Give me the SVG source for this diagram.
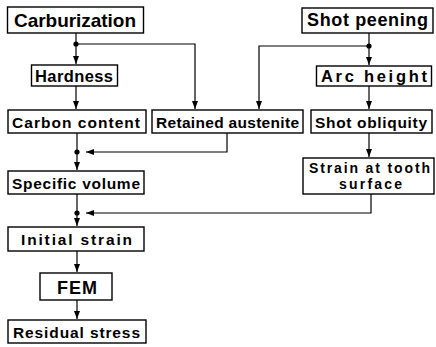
<svg xmlns="http://www.w3.org/2000/svg" width="436" height="347" viewBox="0 0 436 347">
<style>
.box{fill:#fff;stroke:#000;stroke-width:1.4}
.t{font-family:"Liberation Sans",Arial,sans-serif;font-weight:bold;fill:#000}
.s{font-size:15.5px}
.c{fill:none;stroke:#000;stroke-width:1.2}
</style>
<defs>
<marker id="ar" viewBox="0 0 8 6" refX="8" refY="3" markerWidth="8" markerHeight="6" markerUnits="userSpaceOnUse" orient="auto">
<path d="M0,0 L8,3 L0,6 Z" fill="#000"/>
</marker>
</defs>
<rect width="436" height="347" fill="#fff"/>
<g id="connectors">
<path class="c" d="M76,33 V64" marker-end="url(#ar)"/>
<path class="c" d="M76,44 H195 V109" marker-end="url(#ar)"/>
<path class="c" d="M76,86 V109" marker-end="url(#ar)"/>
<path class="c" d="M369,33 V65" marker-end="url(#ar)"/>
<path class="c" d="M369,46 H259 V109" marker-end="url(#ar)"/>
<path class="c" d="M369,86 V109" marker-end="url(#ar)"/>
<path class="c" d="M369,133 V157" marker-end="url(#ar)"/>
<path class="c" d="M77,133 V170" marker-end="url(#ar)"/>
<path class="c" d="M227,133 V152 H86" marker-end="url(#ar)"/>
<path class="c" d="M77,194 V226" marker-end="url(#ar)"/>
<path class="c" d="M371,194 V213 H86" marker-end="url(#ar)"/>
<path class="c" d="M77,251 V272" marker-end="url(#ar)"/>
<path class="c" d="M77,300 V319" marker-end="url(#ar)"/>
<circle cx="76" cy="44" r="2.6" fill="#000"/>
<circle cx="369" cy="46" r="2.6" fill="#000"/>
<circle cx="77" cy="152" r="2.6" fill="#000"/>
<circle cx="77" cy="213" r="2.6" fill="#000"/>
</g>
<g id="carburization">
<rect class="box" x="7.5" y="7" width="136" height="26"/>
<text class="t" x="14" y="27" font-size="19" textLength="122" lengthAdjust="spacing">Carburization</text>
</g>
<g id="shot-peening">
<rect class="box" x="302" y="8" width="131" height="25"/>
<text class="t" x="307" y="26" font-size="18" textLength="121" lengthAdjust="spacing">Shot peening</text>
</g>
<g id="hardness">
<rect class="box" x="31.5" y="65" width="86" height="21"/>
<text class="t" x="35" y="81.5" font-size="16.5" textLength="78" lengthAdjust="spacing">Hardness</text>
</g>
<g id="arc-height">
<rect class="box" x="316.5" y="66" width="115" height="20"/>
<text class="t" x="321" y="81.5" font-size="16.5" textLength="106" lengthAdjust="spacing">Arc height</text>
</g>
<g id="carbon-content">
<rect class="box" x="8" y="110" width="138" height="23"/>
<text class="t s" x="12" y="127.5" textLength="128" lengthAdjust="spacing">Carbon content</text>
</g>
<g id="retained-austenite">
<rect class="box" x="152" y="110" width="151" height="23"/>
<text class="t s" x="156" y="127.5" textLength="143" lengthAdjust="spacing">Retained austenite</text>
</g>
<g id="shot-obliquity">
<rect class="box" x="311" y="110" width="121" height="23"/>
<text class="t s" x="315" y="127.5" textLength="112" lengthAdjust="spacing">Shot obliquity</text>
</g>
<g id="strain-at-tooth-surface">
<rect class="box" x="303" y="158" width="131" height="36"/>
<text class="t" x="309" y="173" font-size="14" textLength="121" lengthAdjust="spacing">Strain at tooth</text>
<text class="t" x="339" y="189" font-size="14" textLength="63" lengthAdjust="spacing">surface</text>
</g>
<g id="specific-volume">
<rect class="box" x="8" y="171" width="136" height="23"/>
<text class="t s" x="12" y="188.5" textLength="128" lengthAdjust="spacing">Specific volume</text>
</g>
<g id="initial-strain">
<rect class="box" x="8" y="227" width="136" height="24"/>
<text class="t s" x="21" y="245" textLength="111" lengthAdjust="spacing">Initial strain</text>
</g>
<g id="fem">
<rect class="box" x="40" y="273" width="72" height="27"/>
<text class="t" x="57" y="293.5" font-size="18" textLength="40" lengthAdjust="spacing">FEM</text>
</g>
<g id="residual-stress">
<rect class="box" x="8" y="320" width="138" height="23"/>
<text class="t s" x="13" y="337.5" textLength="127" lengthAdjust="spacing">Residual stress</text>
</g>
</svg>
